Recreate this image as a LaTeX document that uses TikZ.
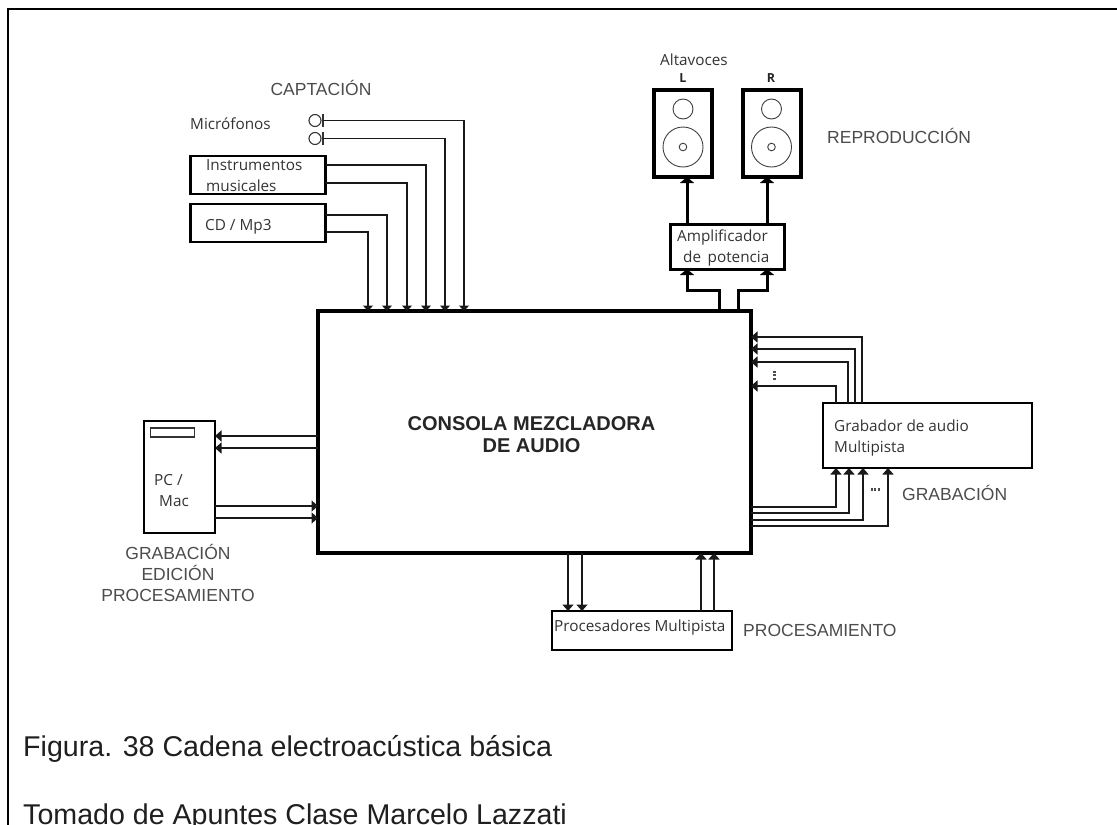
\documentclass[tikz,border=0pt]{standalone}
\usepackage{fontspec}
\setmainfont{Liberation Sans}
\newfontfamily\lab{Open Sans}
\usetikzlibrary{arrows.meta}
\tikzset{
 box/.style={draw=black,line width=2pt,fill=white,inner sep=0pt,outer sep=0pt},
 heavybox/.style={box,line width=3.3pt},
 midbox/.style={box,line width=2.4pt},
 sig/.style={draw=black!90,line width=1.3pt,-{Triangle[length=5.5pt,width=10pt]}},
 sigb/.style={draw=black,line width=3pt,-{Triangle[length=6pt,width=14pt]}},
 sign/.style={draw=black!90,line width=2pt,-{Triangle[length=6.5pt,width=11pt]}},
 heading/.style={font=\fontsize{17.5}{20}\selectfont,text=black!70,align=center,inner sep=0pt},
 lbl/.style={font=\lab\fontsize{15.3}{21}\selectfont,text=black!80,align=left,inner sep=0pt},
 note/.style={font=\fontsize{28.6}{32}\selectfont,text=black!88,anchor=base west,inner sep=0pt},
 cone/.style={draw=black!75,line width=0.9pt,fill=white},
 micro/.style={draw=black!80,line width=1.1pt,circle,minimum size=12pt,inner sep=0pt,outer sep=0pt},
 dotm/.style={fill=black!70},
}
\begin{document}
\begin{tikzpicture}[x=1pt,y=-1pt]
\useasboundingbox (0,0) rectangle (1117,825);
\fill[white] (0,0) rectangle (1117,825);
\draw[line width=2.2pt] (8,825) |- (1117,9);
% console
\node[heavybox,minimum width=433pt,minimum height=242pt,anchor=north west] (mix) at (318,311) {};
\node[font=\bfseries\fontsize{20}{22}\selectfont,align=center,text=black!85] (mixt) at (531.5,435) {CONSOLA MEZCLADORA\\DE AUDIO};
% capture
\node[heading] (tcap) at (321,88) {CAPTACIÓN};
\node[lbl,anchor=west] (tmic) at (190,124) {Micrófonos};
\node[micro] (m1) at (315,120.5) {};
\node[micro] (m2) at (315,138.5) {};
\coordinate (m1b) at (323,120.5); \coordinate (m2b) at (323,138.5);
\draw[line width=1.2pt,black!80] (323,113.5) -- (323,127) (323,131.5) -- (323,145);
\node[midbox,minimum width=135pt,minimum height=38pt,anchor=north west] (ins) at (190.5,156) {};
\node[lbl,anchor=west] (tins) at (206,176) {Instrumentos\\musicales};
\node[midbox,minimum width=135pt,minimum height=38pt,anchor=north west] (cd) at (190.5,204) {};
\node[lbl,anchor=west] (tcd) at (205,227) {CD / Mp3};
\draw[sig] (m1b) -| (464,0 |- mix.north);
\draw[sig] (m2b) -| (445,0 |- mix.north);
\draw[sig] (ins.east |- 0,165) -| (426,0 |- mix.north);
\draw[sig] (ins.east |- 0,183) -| (407,0 |- mix.north);
\draw[sig] (cd.east |- 0,215) -| (387,0 |- mix.north);
\draw[sig] (cd.east |- 0,232) -| (368,0 |- mix.north);
% speakers
\foreach \nm/\cx/\w in {L/683/654,R/771.5/743}{
 \node[heavybox,minimum width=58pt,minimum height=87pt,anchor=north west] (sp\nm) at (\w,90) {};
 \draw[cone] (\cx,109) circle (10pt);
 \draw[cone] (\cx,147) circle (20pt);
 \draw[cone] (\cx,147) circle (3.8pt);
}
\node[lbl,anchor=center] (talt) at (694,60) {Altavoces};
\node[font=\lab\bfseries\fontsize{12.5}{14}\selectfont,text=black!85] (tl) at (683,78) {L};
\node[font=\lab\bfseries\fontsize{12.5}{14}\selectfont,text=black!85] (tr) at (771,78) {R};
\node[heading,anchor=west] (trep) at (827,136) {REPRODUCCIÓN};
\node[box,line width=3pt,minimum width=114pt,minimum height=45pt,anchor=north west] (amp) at (670,224) {};
\node[lbl,anchor=west] (tamp) at (677,247.5) {Amplificador\\\hspace*{6pt}de \,potencia};
\draw[sigb] (687,0 |- amp.north) -- (687,0 |- spL.south);
\draw[sigb] (767,0 |- amp.north) -- (767,0 |- spR.south);
\draw[sigb] (719,0 |- mix.north) |- (687,290) -- (687,0 |- amp.south);
\draw[sigb] (738,0 |- mix.north) |- (767,290) -- (767,0 |- amp.south);
% recorder
\node[box,minimum width=209pt,minimum height=65pt,anchor=north west] (rec) at (823,403) {};
\node[lbl,anchor=west] (trec) at (834,438.5) {Grabador de audio\\Multipista};
\node[heading,anchor=west] (tgrab) at (902,493) {GRABACIÓN};
\draw[sign] (862,0 |- rec.north) |- (mix.east |- 0,337);
\draw[sign] (855,0 |- rec.north) |- (mix.east |- 0,349);
\draw[sign] (848,0 |- rec.north) |- (mix.east |- 0,362);
\draw[sign] (836,0 |- rec.north) |- (mix.east |- 0,386);
\draw[sign] (mix.east |- 0,507) -| (836,0 |- rec.south);
\draw[sign] (mix.east |- 0,513) -| (849,0 |- rec.south);
\draw[sign] (mix.east |- 0,520) -| (863,0 |- rec.south);
\draw[sign] (mix.east |- 0,526) -| (888,0 |- rec.south);
\foreach \y in {370.5,374,377.5} \fill[dotm] (772.5,\y) rectangle (775.5,\y+2.2);
\foreach \x in {870.5,874,877.5} \fill[dotm] (\x,488) rectangle (\x+2.2,491);
% PC
\node[box,minimum width=71pt,minimum height=112pt,anchor=north west] (pc) at (144,421) {};
\node[draw=black!80,line width=1.2pt,minimum width=44pt,minimum height=9pt,inner sep=0pt,outer sep=0pt,anchor=north west] (slot) at (150.5,428) {};
\node[lbl,anchor=west] (tpc) at (154,490.5) {PC /\\\hspace*{5pt}Mac};
\draw[sign] (mix.west |- 0,436) -- (pc.east |- 0,436);
\draw[sign] (mix.west |- 0,448) -- (pc.east |- 0,448);
\draw[sign] (pc.east |- 0,506) -- (mix.west |- 0,506);
\draw[sign] (pc.east |- 0,518) -- (mix.west |- 0,518);
\node[heading,font=\fontsize{17.5}{21}\selectfont] (tpcc) at (178,573) {GRABACIÓN\\EDICIÓN\\PROCESAMIENTO};
% processors
\node[box,line width=2.2pt,minimum width=180pt,minimum height=39pt,anchor=north west] (proc) at (552,611) {};
\node[lbl,anchor=west] (tproc) at (554,628) {Procesadores Multipista};
\node[heading,anchor=west] (tprc) at (743,630) {PROCESAMIENTO};
\draw[sign] (568,0 |- mix.south) -- (568,0 |- proc.north);
\draw[sign] (582,0 |- mix.south) -- (582,0 |- proc.north);
\draw[sign] (701,0 |- proc.north) -- (701,0 |- mix.south);
\draw[sign] (714,0 |- proc.north) -- (714,0 |- mix.south);
% captions
\node[note] (n1) at (23,756) {Figura. 38 Cadena electroacústica básica};
\node[note] (n2) at (23,824) {Tomado de Apuntes Clase Marcelo Lazzati};
\end{tikzpicture}
\end{document}
